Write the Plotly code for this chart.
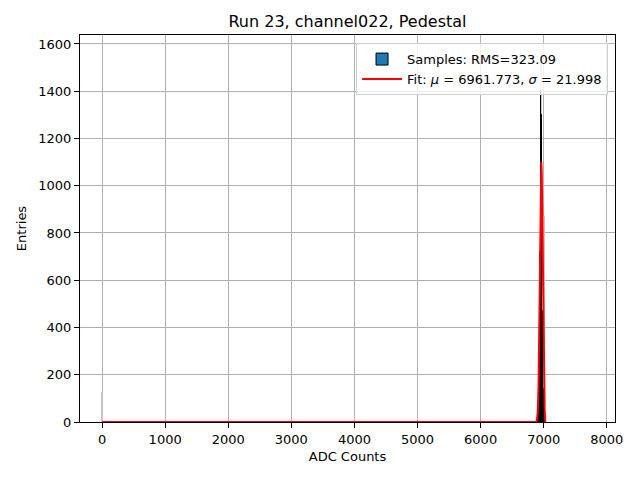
import plotly.graph_objects as go

# Histogram of samples (bin centers, counts), bin width 5 ADC
hist_x = [6882.5, 6887.5, 6892.5, 6897.5, 6902.5, 6907.5, 6912.5, 6917.5, 6922.5, 6927.5,
          6932.5, 6937.5, 6942.5, 6947.5, 6952.5, 6957.5, 6962.5, 6967.5, 6972.5, 6977.5,
          6982.5, 6987.5, 6992.5, 6997.5, 7002.5, 7007.5, 7012.5, 7017.5, 7022.5, 7027.5,
          7032.5, 7037.5]
hist_y = [0, 1, 2, 4, 8, 15, 30, 55, 100, 170,
          260, 380, 540, 720, 950, 1400, 1300, 1000, 820, 640,
          470, 330, 220, 140, 85, 50, 28, 15, 8, 4,
          2, 1]
bin_width = 5

# Light gray raw-sample spikes
raw_x = [0, 6962, 7005]
raw_y = [125, 1560, 870]

# Gaussian fit curve
fit_x = [0, 6870, 6890, 6905, 6918, 6930, 6940, 6950, 6957, 6962, 6968, 6976, 6985, 6995,
         7005, 7015, 7025]
fit_y = [0, 0, 5, 40, 150, 390, 640, 880, 1030, 1100, 1060, 920, 680, 390,
         170, 50, 0]

rms = 323.09
mu = 6961.773
sigma = 21.998

x_ticks = [0, 1000, 2000, 3000, 4000, 5000, 6000, 7000, 8000]
y_ticks = [0, 200, 400, 600, 800, 1000, 1200, 1400, 1600]

fig = go.Figure()
fig.add_trace(go.Bar(x=raw_x, y=raw_y, width=[28] * len(raw_x),
                     marker=dict(color="#c4c4c4", line=dict(width=0)),
                     showlegend=False, hoverinfo="skip"))
fig.add_trace(go.Bar(x=hist_x, y=hist_y, width=[bin_width] * len(hist_x),
                     marker=dict(color="#1f77b4", line=dict(color="black", width=1)),
                     name=f"Samples: RMS={rms:.2f}"))
fig.add_trace(go.Scatter(x=fit_x, y=fit_y, mode="lines",
                         line=dict(color="red", width=2),
                         name=f"Fit: <i>μ</i> = {mu:.3f}, <i>σ</i> = {sigma:.3f}"))

axis_common = dict(showline=True, linecolor="black", linewidth=1, mirror=True,
                   ticks="outside", ticklen=5, tickcolor="black",
                   showgrid=True, gridcolor="#b0b0b0", gridwidth=1,
                   zeroline=False, automargin=False, layer="below traces",
                   tickfont=dict(size=13, color="black"))

# page body adds an 8px offset; margins compensate so the plot lands where the reference has it
fig.update_layout(
    width=640, height=480,
    paper_bgcolor="white", plot_bgcolor="white",
    font=dict(family="DejaVu Sans", color="black"),
    barmode="overlay", bargap=0,
    margin=dict(l=72, r=33, t=27, b=66),
    title=dict(text="Run 23, channel022, Pedestal", x=(72 + 535 / 2) / 640, xanchor="center",
               y=1 - 13 / 480, yanchor="middle", font=dict(size=16)),
    xaxis=dict(range=[-350, 8130], tickvals=x_ticks,
               title=dict(text="ADC Counts", font=dict(size=13), standoff=6),
               **axis_common),
    yaxis=dict(range=[0, 1638], tickvals=y_ticks,
               title=dict(text="Entries", font=dict(size=13), standoff=8),
               **axis_common),
    legend=dict(x=0.987, y=0.979, xanchor="right", yanchor="top",
                bgcolor="rgba(255,255,255,0.8)", bordercolor="#d0d0d0", borderwidth=1,
                font=dict(size=13), tracegroupgap=4, itemwidth=40),
)

fig.write_html("out.html")
